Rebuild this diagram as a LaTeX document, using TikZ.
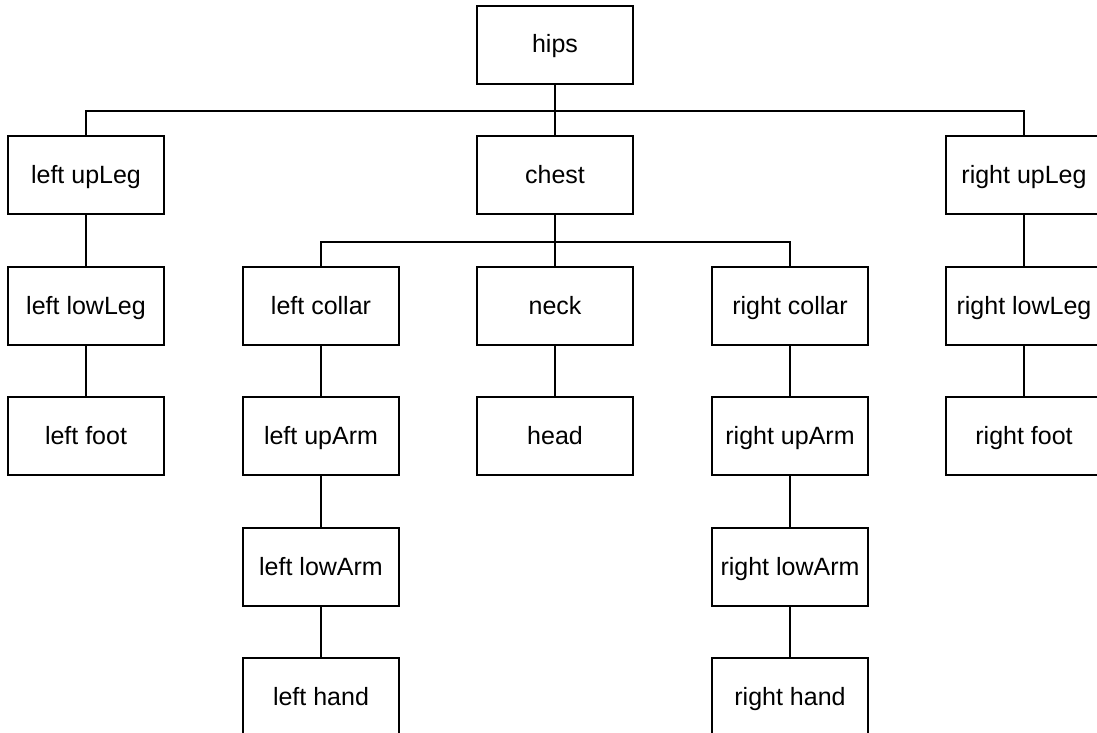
\documentclass[tikz,border=0pt]{standalone}
\usepackage{fontspec}
\setmainfont{Liberation Sans}
\begin{document}
\begin{tikzpicture}[x=1pt,y=-1pt,
  bone/.style={draw, line width=2.2pt, rectangle, minimum width=156pt, minimum height=78pt, inner sep=0pt, text height=20pt, text depth=4pt, font=\fontsize{25}{30}\selectfont},
  link/.style={line width=2.2pt}]
\useasboundingbox (0,0) rectangle (1097,733);
% rows: centers y
\node[bone] (hips) at (555,45) {hips};
\node[bone] (lul) at (86,175) {left upLeg};
\node[bone] (chest) at (555,175) {chest};
\node[bone] (rul) at (1024,175) {right upLeg};
\node[bone] (lll) at (86,306) {left lowLeg};
\node[bone] (lco) at (321,306) {left collar};
\node[bone] (neck) at (555,306) {neck};
\node[bone] (rco) at (790,306) {right collar};
\node[bone] (rll) at (1024,306) {right lowLeg};
\node[bone] (lft) at (86,436) {left foot};
\node[bone] (lua) at (321,436) {left upArm};
\node[bone] (head) at (555,436) {head};
\node[bone] (rua) at (790,436) {right upArm};
\node[bone] (rft) at (1024,436) {right foot};
\node[bone] (lla) at (321,567) {left lowArm};
\node[bone] (rla) at (790,567) {right lowArm};
\node[bone] (lha) at (321,697) {left hand};
\node[bone] (rha) at (790,697) {right hand};
% connectors
\draw[link] (hips.south) -- ++(0,26) -| (lul.north);
\draw[link] (hips.south) -- ++(0,26) -| (rul.north);
\draw[link] (hips.south) -- (chest.north);
\draw[link] (chest.south) -- ++(0,26.5) -| (lco.north);
\draw[link] (chest.south) -- ++(0,26.5) -| (rco.north);
\draw[link] (chest.south) -- (neck.north);
\draw[link] (lul.south) -- (lll.north);
\draw[link] (lll.south) -- (lft.north);
\draw[link] (rul.south) -- (rll.north);
\draw[link] (rll.south) -- (rft.north);
\draw[link] (neck.south) -- (head.north);
\draw[link] (lco.south) -- (lua.north);
\draw[link] (lua.south) -- (lla.north);
\draw[link] (lla.south) -- (lha.north);
\draw[link] (rco.south) -- (rua.north);
\draw[link] (rua.south) -- (rla.north);
\draw[link] (rla.south) -- (rha.north);
\end{tikzpicture}
\end{document}
